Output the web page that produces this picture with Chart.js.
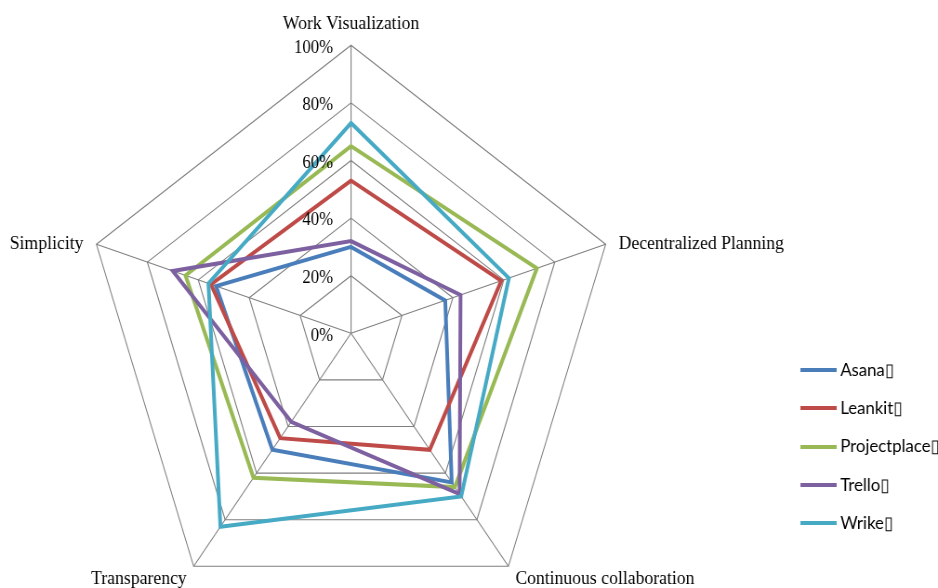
<!DOCTYPE html>
<html>
  <head>
    <title>Agile tools radar</title>
    <script src="https://cdn.jsdelivr.net/npm/chart.js@4.4.0/dist/chart.umd.min.js"></script>
    <style>
      html, body { margin: 0; padding: 0; background: #fff; overflow: hidden; }
      /* the original picture is squeezed horizontally, so the chart is too */
      #wrap { width: 1009px; height: 588px; transform: scaleX(0.9296); transform-origin: 0 0; }
    </style>
  </head>
  <body>
    <div id="wrap"><canvas id="chart"></canvas></div>

    <script type="text/javascript">

      const axes = ['Work Visualization', 'Decentralized Planning', 'Continuous collaboration', 'Transparency', 'Simplicity'];
      const tools = ['Asana\u25AF', 'Leankit\u25AF', 'Projectplace\u25AF', 'Trello\u25AF', 'Wrike\u25AF'];
      const tickLabels = ['0%', '20%', '40%', '60%', '80%', '100%'];

      const asana = [30, 37, 64, 50, 53];
      const leankit = [53, 59, 50, 45, 55];
      const projectplace = [65, 73, 66, 62, 65];
      const trello = [32, 43, 69, 38, 70];
      const wrike = [73, 62, 70, 83, 56];

      const series = [asana, leankit, projectplace, trello, wrike];
      const colors = ['#4A7EBB', '#BE4B48', '#98B954', '#7D60A0', '#46AAC5'];

      // short thick line used as the legend marker
      function lineIcon(color) {
        const c = document.createElement('canvas');
        c.width = 39;
        c.height = 4;
        const g = c.getContext('2d');
        g.fillStyle = color;
        g.fillRect(0, 0, 39, 4);
        return c;
      }

      // axis names and percent labels placed the way Excel does it
      const excelLabels = {
        id: 'excelLabels',
        afterDraw(chart) {
          const r = chart.scales.r;
          const ctx = chart.ctx;
          ctx.save();
          ctx.fillStyle = '#000';
          ctx.textBaseline = 'alphabetic';
          ctx.font = '19px "Liberation Serif"';
          axes.forEach((name, i) => {
            const p = r.getPointPosition(i, r.drawingArea);
            const dx = Math.cos(p.angle);
            const dy = Math.sin(p.angle);
            let x = p.x;
            let y = p.y;
            if (Math.abs(dx) < 0.01) {
              ctx.textAlign = 'center';
              y -= 16;
            } else if (dy < 0) {
              ctx.textAlign = dx > 0 ? 'left' : 'right';
              x += 14 * Math.sign(dx);
              y += 5;
            } else {
              ctx.textAlign = dx > 0 ? 'left' : 'right';
              x += 7.5 * Math.sign(dx);
              y += 18;
            }
            ctx.fillText(name, x, y);
          });

          ctx.font = '18px "Liberation Serif"';
          ctx.textAlign = 'right';
          ctx.textBaseline = 'middle';
          r.ticks.forEach((t) => {
            const d = r.getDistanceFromCenterForValue(t.value);
            ctx.fillText(t.label, r.xCenter - 19.4, r.yCenter - d + 2.5);
          });
          ctx.restore();
        }
      };

      const datasets = tools.map((name, i) => ({
        label: name,
        data: series[i],
        borderColor: colors[i],
        backgroundColor: colors[i],
        borderWidth: 4,
        fill: false,
        pointRadius: 0,
        pointHoverRadius: 0,
        tension: 0,
        clip: false,
        order: tools.length - i
      }));

      const ctx = document.getElementById('chart').getContext('2d');

      const myChart = new Chart(ctx, {
        type: 'radar',
        data: {
          labels: axes,
          datasets: datasets
        },
        plugins: [excelLabels],
        options: {
          responsive: true,
          maintainAspectRatio: false,
          animation: false,
          layout: { padding: { bottom: 35.75, right: -12 } },
          plugins: {
            tooltip: { enabled: false },
            legend: {
              position: 'right',
              align: 'end',
              labels: {
                usePointStyle: true,
                pointStyleWidth: 28,
                padding: 20.25,
                color: '#000',
                font: { family: 'Lato', size: 18 },
                sort: (a, b) => a.datasetIndex - b.datasetIndex,
                generateLabels(chart) {
                  const items = Chart.defaults.plugins.legend.labels.generateLabels(chart);
                  items.forEach((it) => { it.pointStyle = lineIcon(it.strokeStyle); });
                  return items;
                }
              }
            }
          },
          scales: {
            r: {
              min: 0,
              max: 100,
              ticks: {
                stepSize: 20,
                display: false,
                callback: (v, i) => tickLabels[i]
              },
              pointLabels: { display: false },
              grid: { color: '#7f7f7f', lineWidth: 1.1 },
              angleLines: { color: '#7f7f7f', lineWidth: 1.1 },
              afterFit(scale) {
                scale.xCenter = 377.6;
                scale.yCenter = 333.3;
                scale.drawingArea = 288;
              }
            }
          }
        }
      });

    </script>
  </body>
</html>
